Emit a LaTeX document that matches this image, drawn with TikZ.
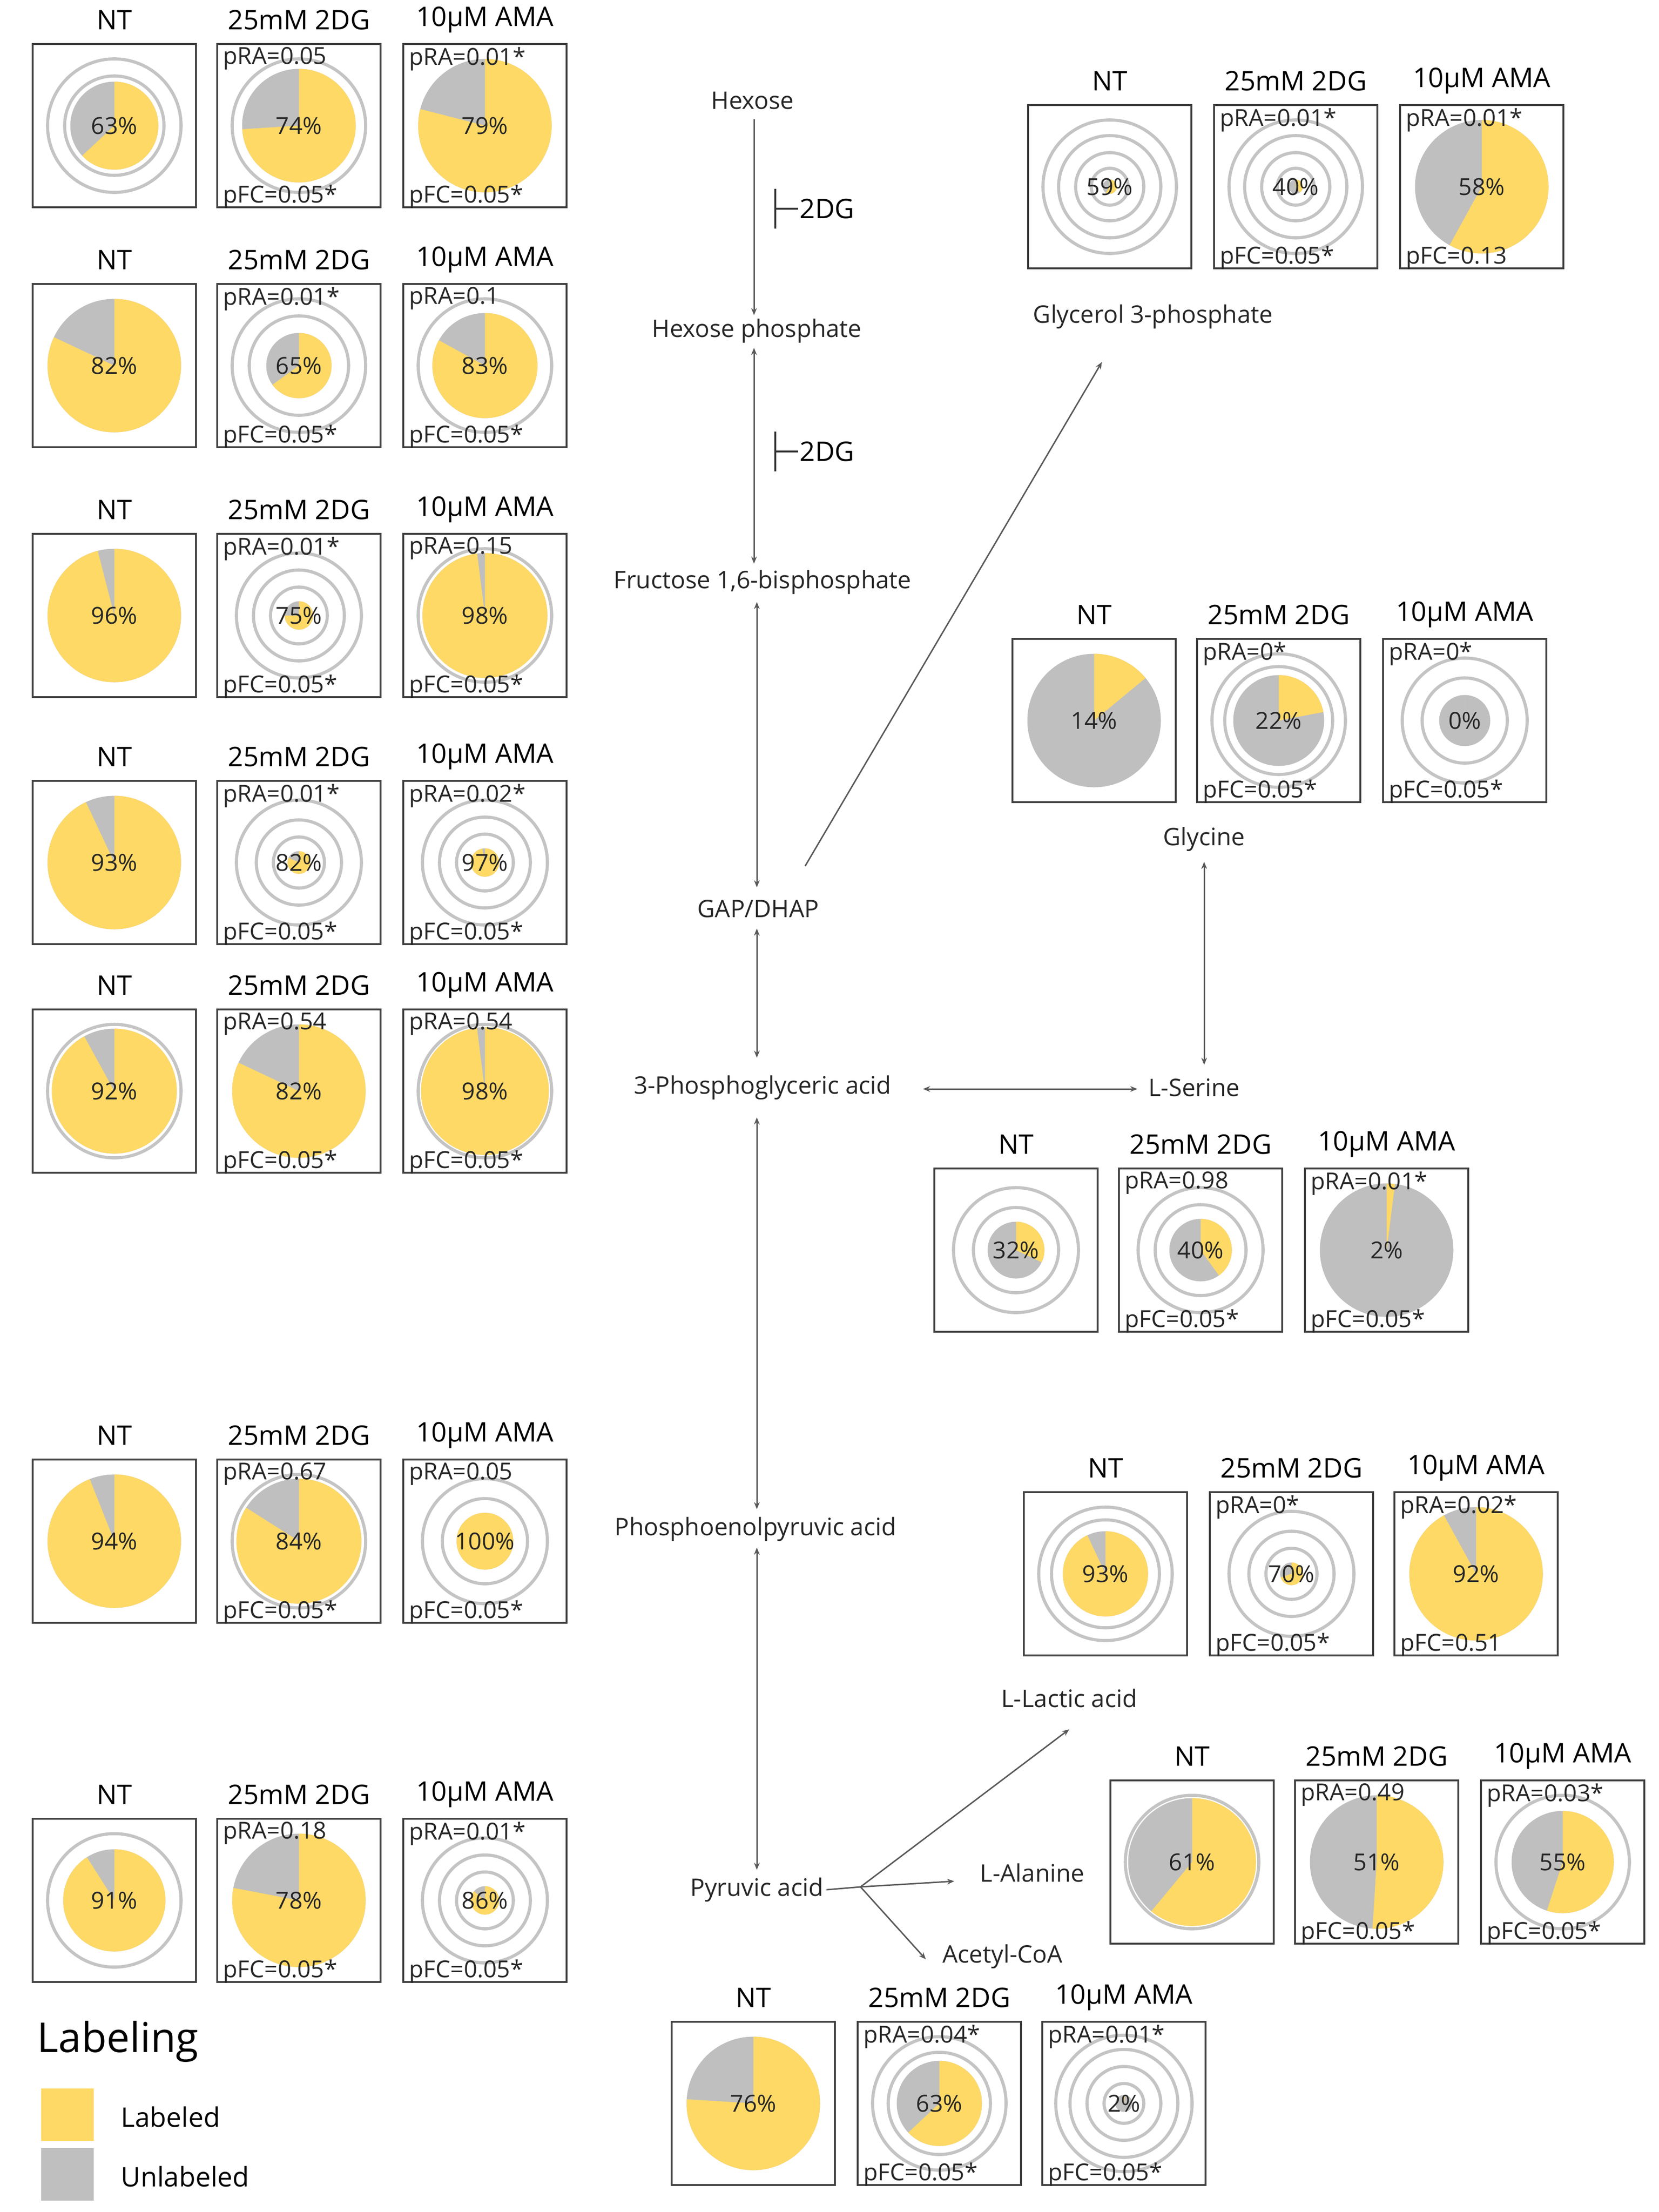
\documentclass[tikz,border=0pt]{standalone}
\usepackage{fontspec}
\setmainfont{Open Sans}
\definecolor{yel}{HTML}{FFD966}
\definecolor{gry}{HTML}{BFBFBF}
\definecolor{rng}{HTML}{C4C4C4}
\definecolor{txt}{HTML}{262626}
\usetikzlibrary{arrows.meta}
\tikzset{
 box/.style={draw=black!75,line width=1.6pt},
 ring/.style={draw=rng,line width=2.2pt},
 ttl/.style={font=\fontsize{19}{19}\selectfont,text=black},
 pv/.style={font=\fontsize{16.5}{16.5}\selectfont,text=txt,inner sep=1pt},
 pct/.style={font=\fontsize{16.5}{16.5}\selectfont,text=txt,inner sep=0pt},
 met/.style={font=\fontsize{17}{17}\selectfont,text=txt,inner sep=2pt},
 arr/.style={draw=black!65,line width=1pt,-{Stealth[length=5pt,width=4pt]}},
 darr/.style={draw=black!65,line width=1pt,{Stealth[length=5pt,width=4pt]}-{Stealth[length=5pt,width=4pt]}},
}
% #1 x, #2 y, #3 title, #4 percent, #5 pie radius, #6 rings, #7 pRA, #8 pFC
\newcommand\pnl[8]{%
 \begin{scope}[shift={(#1,#2)}]
  \foreach \r in {#6}{\ifnum\r>0 \draw[ring] (57.5,57.5) circle[radius=\r pt];\fi}
  \fill[gry] (57.5,57.5) circle[radius=#5pt];
  \fill[yel] (57.5,57.5) -- ++(90:#5pt) arc[start angle=90,end angle={90-3.6*#4},radius=#5pt] -- cycle;
  \draw[box] (0,0) rectangle (115,115);
  \node[pct] at (57.5,57.5) {#4\%};
  \node[ttl] at (57.5,-17) {#3};
  \node[pv,anchor=north west] at (3,1) {#7};
  \node[pv,anchor=south west] at (3,117) {#8};
 \end{scope}}
\begin{document}
\begin{tikzpicture}[x=1pt,y=-1pt]
\useasboundingbox (0,0) rectangle (1168,1558);
% left column
\pnl{23}{31}{NT}{63}{31}{35,47}{}{}
\pnl{153}{31}{25mM 2DG}{74}{40}{47}{pRA=0.05}{pFC=0.05*}
\pnl{284}{31}{10µM AMA}{79}{47}{0}{pRA=0.01*}{pFC=0.05*}
\pnl{23}{200}{NT}{82}{47}{0}{}{}
\pnl{153}{200}{25mM 2DG}{65}{23}{35,47}{pRA=0.01*}{pFC=0.05*}
\pnl{284}{200}{10µM AMA}{83}{37}{47}{pRA=0.1}{pFC=0.05*}
\pnl{23}{376}{NT}{96}{47}{0}{}{}
\pnl{153}{376}{25mM 2DG}{75}{10}{20,32,44}{pRA=0.01*}{pFC=0.05*}
\pnl{284}{376}{10µM AMA}{98}{44}{47}{pRA=0.15}{pFC=0.05*}
\pnl{23}{550}{NT}{93}{47}{0}{}{}
\pnl{153}{550}{25mM 2DG}{82}{8}{18,30,44}{pRA=0.01*}{pFC=0.05*}
\pnl{284}{550}{10µM AMA}{97}{10}{20,32,44}{pRA=0.02*}{pFC=0.05*}
\pnl{23}{711}{NT}{92}{44}{47}{}{}
\pnl{153}{711}{25mM 2DG}{82}{47}{0}{pRA=0.54}{pFC=0.05*}
\pnl{284}{711}{10µM AMA}{98}{45}{47}{pRA=0.54}{pFC=0.05*}
\pnl{23}{1028}{NT}{94}{47}{0}{}{}
\pnl{153}{1028}{25mM 2DG}{84}{44}{47}{pRA=0.67}{pFC=0.05*}
\pnl{284}{1028}{10µM AMA}{100}{20}{30,44}{pRA=0.05}{pFC=0.05*}
\pnl{23}{1281}{NT}{91}{36}{47}{}{}
\pnl{153}{1281}{25mM 2DG}{78}{47}{0}{pRA=0.18}{pFC=0.05*}
\pnl{284}{1281}{10µM AMA}{86}{10}{20,32,44}{pRA=0.01*}{pFC=0.05*}
% right
\pnl{724}{74}{NT}{59}{5}{13,24,36,47}{}{}
\pnl{855}{74}{25mM 2DG}{40}{5}{13,24,36,47}{pRA=0.01*}{pFC=0.05*}
\pnl{986}{74}{10µM AMA}{58}{47}{0}{pRA=0.01*}{pFC=0.13}
\pnl{713}{450}{NT}{14}{47}{0}{}{}
\pnl{843}{450}{25mM 2DG}{22}{32}{38,47}{pRA=0*}{pFC=0.05*}
\pnl{974}{450}{10µM AMA}{0}{18}{30,44}{pRA=0*}{pFC=0.05*}
\pnl{658}{823}{NT}{32}{20}{30,44}{}{}
\pnl{788}{823}{25mM 2DG}{40}{22}{32,44}{pRA=0.98}{pFC=0.05*}
\pnl{919}{823}{10µM AMA}{2}{47}{0}{pRA=0.01*}{pFC=0.05*}
\pnl{721}{1051}{NT}{93}{30}{38,47}{}{}
\pnl{852}{1051}{25mM 2DG}{70}{8}{18,30,44}{pRA=0*}{pFC=0.05*}
\pnl{982}{1051}{10µM AMA}{92}{47}{0}{pRA=0.02*}{pFC=0.51}
\pnl{782}{1254}{NT}{61}{45}{47}{}{}
\pnl{912}{1254}{25mM 2DG}{51}{47}{0}{pRA=0.49}{pFC=0.05*}
\pnl{1043}{1254}{10µM AMA}{55}{36}{47}{pRA=0.03*}{pFC=0.05*}
\pnl{473}{1424}{NT}{76}{47}{0}{}{}
\pnl{604}{1424}{25mM 2DG}{63}{30}{36,47}{pRA=0.04*}{pFC=0.05*}
\pnl{734}{1424}{10µM AMA}{2}{6}{14,26,38,48}{pRA=0.01*}{pFC=0.05*}
% pathway
\node[met] (hex) at (530,71) {Hexose};
\node[met] (hp) at (533,233) {Hexose phosphate};
\node[met] (fbp) at (537,410) {Fructose 1,6-bisphosphate};
\node[met] (gap) at (534,640) {GAP/DHAP};
\node[met] (pg) at (537,766) {3-Phosphoglyceric acid};
\node[met] (ser) at (841,766) {L-Serine};
\node[met] (gly) at (848,591) {Glycine};
\node[met] (g3p) at (812,223) {Glycerol 3-phosphate};
\node[met] (pep) at (532,1077) {Phosphoenolpyruvic acid};
\node[met] (pyr) at (533,1331) {Pyruvic acid};
\node[met] (lac) at (753,1196) {L-Lactic acid};
\node[met] (ala) at (727,1319) {L-Alanine};
\node[met] (aco) at (706,1378) {Acetyl-CoA};
\draw[arr] (531,84) -- (531,222);
\draw[darr] (531,245) -- (531,397);
\draw[darr] (533,424) -- (533,625);
\draw[darr] (533,654) -- (533,745);
\draw[darr] (533,787) -- (533,1063);
\draw[darr] (533,1090) -- (533,1317);
\draw[arr] (567,610) -- (776,255);
\draw[darr] (650,767) -- (801,767);
\draw[darr] (848,607) -- (848,750);
\coordinate (br) at (606,1329);
\draw[draw=black!65,line width=1pt] (pyr.east) -- (br);
\draw[arr] (br) -- (753,1218);
\draw[arr] (br) -- (672,1325);
\draw[arr] (br) -- (652,1380);
% inhibition
\foreach \yy/\nm in {147/i1,318/i2}{
 \draw[draw=black!80,line width=1.2pt] (546,\yy-14) -- (546,\yy+14);
 \draw[draw=black!80,line width=1.2pt] (546,\yy) -- (562,\yy);
 \node[ttl,anchor=west,inner sep=0pt] (\nm) at (563,\yy) {2DG};
}
% legend
\node[font=\fontsize{29}{29}\selectfont,anchor=west,inner sep=0pt] (leg) at (26,1438) {Labeling};
\fill[yel] (29,1471) rectangle (66,1508);
\fill[gry] (29,1513) rectangle (66,1550);
\node[font=\fontsize{19}{19}\selectfont,anchor=west,inner sep=0pt] (l1) at (85,1491) {Labeled};
\node[font=\fontsize{19}{19}\selectfont,anchor=west,inner sep=0pt] (l2) at (85,1533) {Unlabeled};
\end{tikzpicture}
\end{document}
